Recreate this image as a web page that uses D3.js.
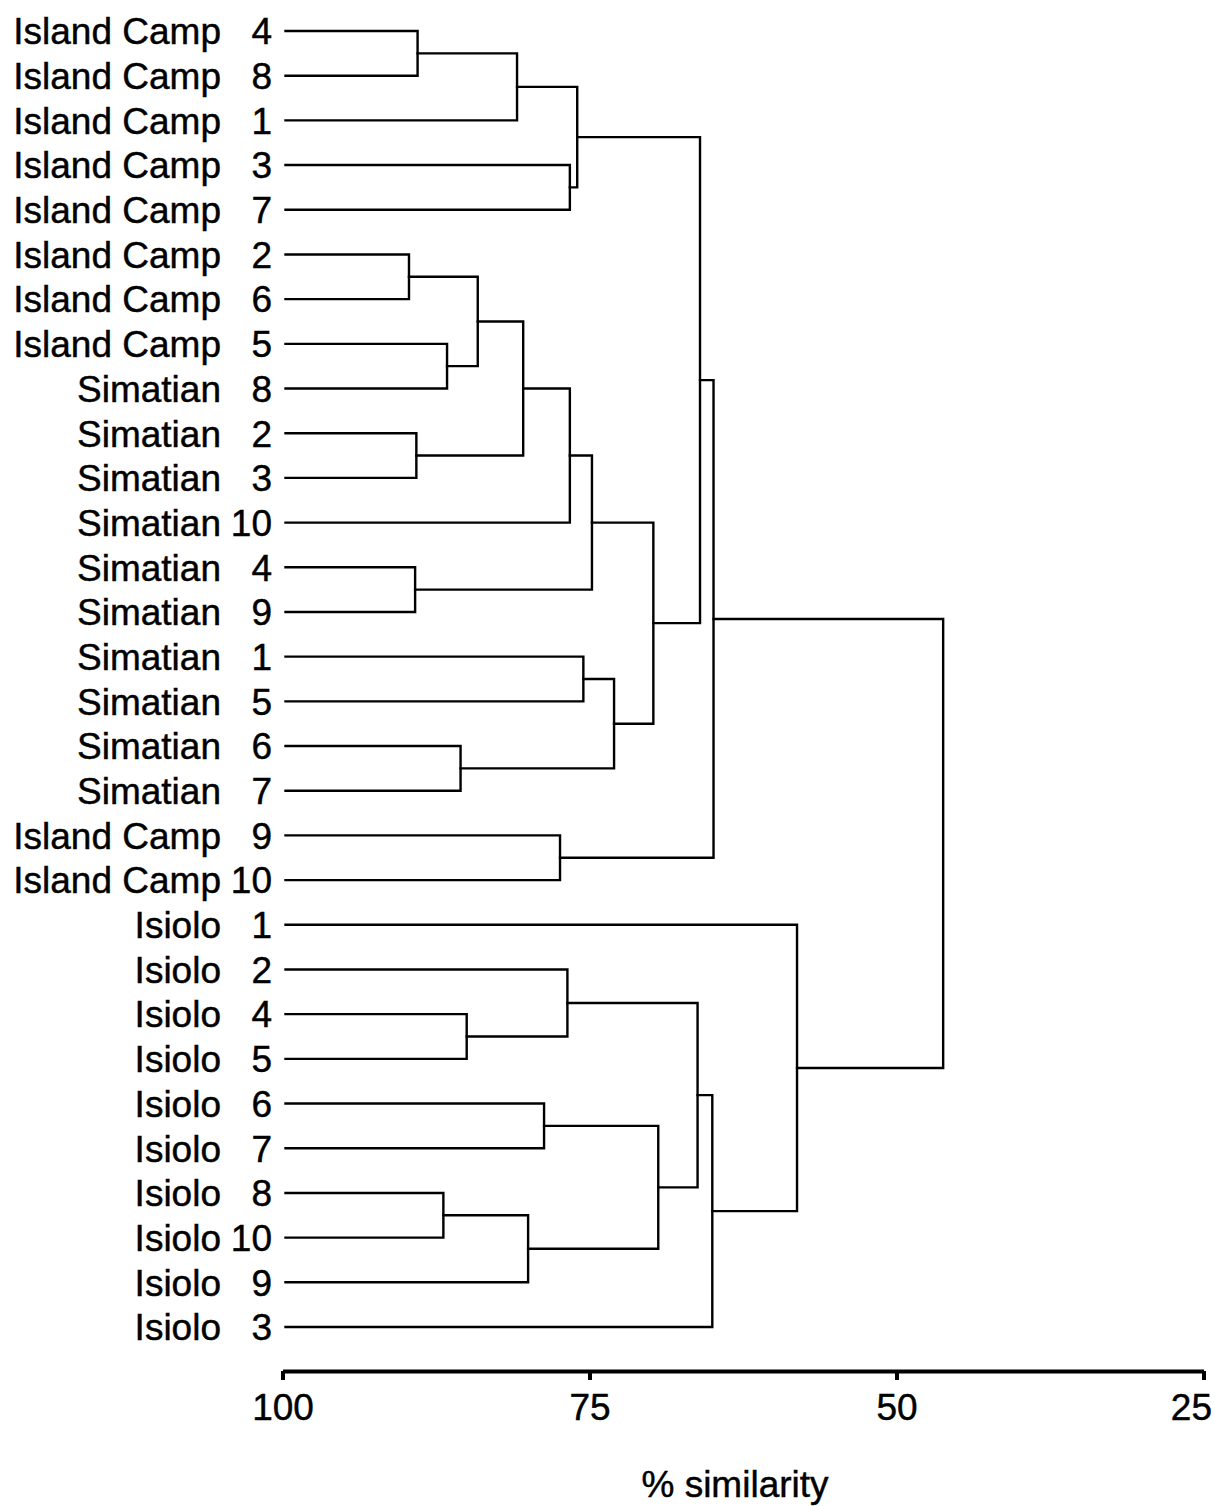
<!DOCTYPE html>
<html>
<head>
<meta charset="utf-8">
<script src="https://cdn.jsdelivr.net/npm/d3@7"></script>
<style>
  html, body { margin: 0; padding: 0; background: #fff; }
  svg { display: block; }
  text { font-family: "Liberation Sans", Arial, Helvetica, sans-serif; fill: #000; stroke: #000; stroke-width: 0.45px; }
</style>
</head>
<body>
<svg id="chart" width="1215" height="1506"></svg>
<script>
// Sample sites, in dendrogram (leaf) order, top to bottom
const siteNames = [
  "Island Camp", "Island Camp", "Island Camp", "Island Camp", "Island Camp",
  "Island Camp", "Island Camp", "Island Camp", "Simatian", "Simatian",
  "Simatian", "Simatian", "Simatian", "Simatian", "Simatian",
  "Simatian", "Simatian", "Simatian", "Island Camp", "Island Camp",
  "Isiolo", "Isiolo", "Isiolo", "Isiolo", "Isiolo",
  "Isiolo", "Isiolo", "Isiolo", "Isiolo", "Isiolo"
];
const siteNumbers = [
  4, 8, 1, 3, 7, 2, 6, 5, 8, 2,
  3, 10, 4, 9, 1, 5, 6, 7, 9, 10,
  1, 2, 4, 5, 6, 7, 8, 10, 9, 3
];

// Agglomeration steps: [left child, right child, % similarity at join].
// Indices 0-29 are leaves; step k creates node 30 + k.
const mergeLeft  = [ 0, 30,  3, 31,  5,  7, 34,  9, 36, 38, 12, 39, 14, 16, 42, 41, 33, 18, 46, 22, 21, 24, 26, 52, 51, 50, 55, 20, 48];
const mergeRight = [ 1,  2,  4, 32,  6,  8, 35, 10, 37, 11, 13, 40, 15, 17, 43, 44, 45, 19, 47, 23, 49, 25, 27, 28, 53, 54, 29, 56, 57];
const mergeSimilarity = [
  89.0, 80.9, 76.6, 76.0, 89.7, 86.6, 84.1, 89.1, 80.4, 76.6,
  89.2, 74.8, 75.5, 85.5, 73.0, 69.8, 66.0, 77.4, 64.9, 85.0,
  76.8, 78.7, 86.9, 80.0, 69.4, 66.2, 65.0, 58.1, 46.2
];

// Axis ticks
const axisTicks = [100, 75, 50, 25];
const axisTitle = "% similarity";

// ---- layout ----
const svg = d3.select("#chart");
const FONT = 37;
const leafTop = 31, leafBottom = 1327;
const axisY = 1371;

const x = d3.scaleLinear().domain([100, 25]).range([282.5, 1203.5]);
const y = d3.scalePoint().domain(d3.range(siteNames.length)).range([leafTop, leafBottom]);

// Build a nested tree from the merge table, then wrap it with d3.hierarchy
const nodes = siteNames.map((name, i) => ({ id: i, name, num: siteNumbers[i], sim: 100 }));
mergeLeft.forEach((l, k) => {
  nodes.push({ id: nodes.length, sim: mergeSimilarity[k], children: [nodes[l], nodes[mergeRight[k]]] });
});
const root = d3.hierarchy(nodes[nodes.length - 1]);

// Leaves sit on their row; each junction sits midway between its two children
root.eachAfter(d => {
  if (!d.children) d.py = y(d.data.id);
  else d.py = d3.mean(d.children, c => c.py);
  d.px = x(d.data.sim);
});
const leafStart = x(100) + 3;

const links = svg.append("g")
  .attr("fill", "none")
  .attr("stroke", "#000")
  .attr("stroke-width", 2.4)
  .attr("stroke-linejoin", "miter")
  .attr("stroke-linecap", "square");

root.descendants().filter(d => d.children).forEach(d => {
  const [a, b] = d.children;
  const ax = a.children ? a.px : leafStart;
  const bx = b.children ? b.px : leafStart;
  links.append("path")
    .attr("d", `M${ax},${a.py}H${d.px}V${b.py}H${bx}`);
});

// Leaf labels: site name and sample number in two right-aligned columns
const labels = svg.append("g").attr("font-size", FONT);
root.leaves().forEach(d => {
  labels.append("text")
    .attr("x", 221).attr("y", d.py).attr("dy", "0.36em")
    .attr("text-anchor", "end")
    .text(d.data.name);
  labels.append("text")
    .attr("x", 272).attr("y", d.py).attr("dy", "0.36em")
    .attr("text-anchor", "end")
    .text(d.data.num);
});

// Similarity axis
const axis = d3.axisBottom(x)
  .tickValues(axisTicks)
  .tickSize(9)
  .tickSizeOuter(0)
  .tickPadding(14)
  .tickFormat(d3.format("d"));

const gAxis = svg.append("g")
  .attr("transform", `translate(0,${axisY})`)
  .call(axis);
gAxis.select(".domain").attr("stroke", "#000").attr("stroke-width", 4);
gAxis.selectAll(".tick line").attr("stroke", "#000").attr("stroke-width", 4);
gAxis.selectAll(".tick text")
  .attr("font-size", FONT)
  .attr("font-family", "'Liberation Sans', Arial, sans-serif")
  .attr("fill", "#000");
// keep the right-most tick label inside the page
gAxis.selectAll(".tick text")
  .filter(d => d === axisTicks[axisTicks.length - 1])
  .attr("text-anchor", "end")
  .attr("x", 8);

svg.append("text")
  .attr("x", 735)
  .attr("y", 1497)
  .attr("text-anchor", "middle")
  .attr("font-size", FONT)
  .text(axisTitle);
</script>
</body>
</html>
